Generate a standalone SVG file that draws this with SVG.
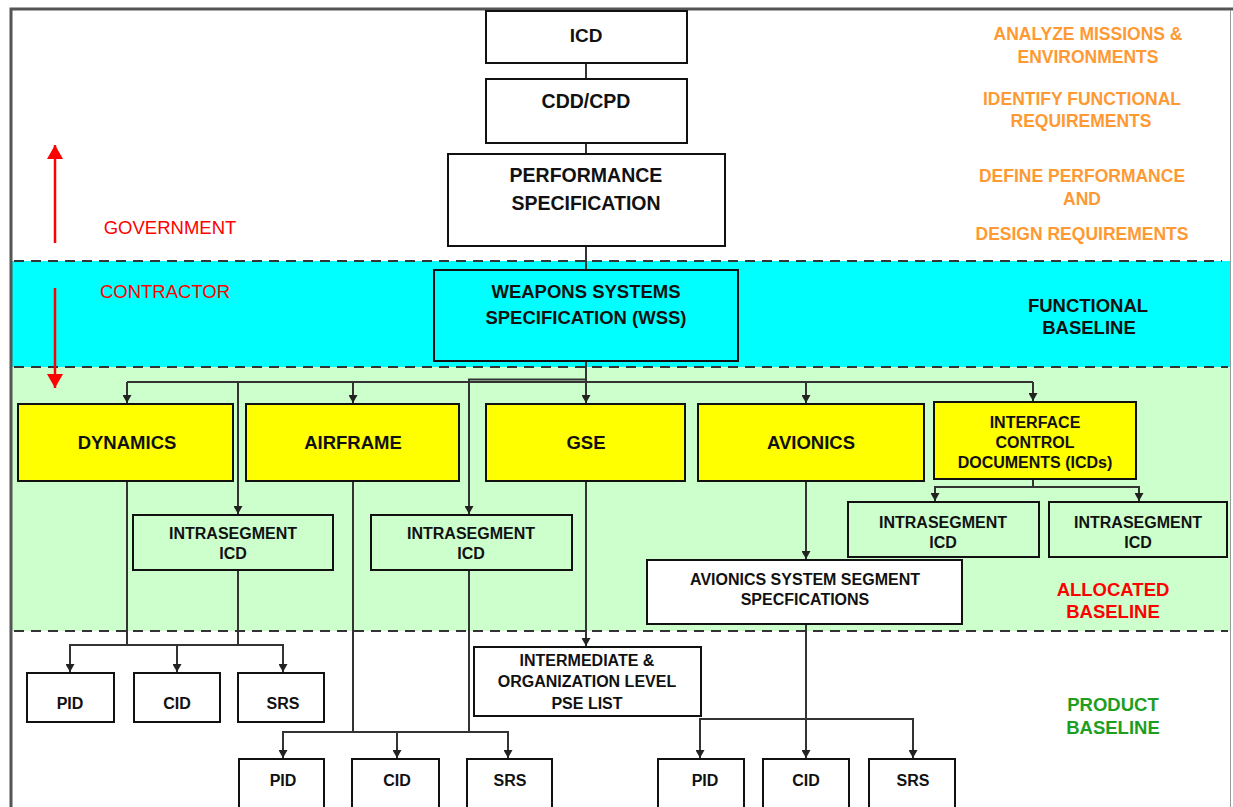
<svg xmlns="http://www.w3.org/2000/svg" width="1233" height="807" viewBox="0 0 1233 807">
<defs>
<style>
.t{font-family:"Liberation Sans",Arial,sans-serif;font-weight:bold;text-anchor:middle;fill:#111}
.b{stroke:#111;stroke-width:2}
.c{fill:none;stroke:#333;stroke-width:2}
.d{fill:none;stroke:#333;stroke-width:2;stroke-dasharray:10 7}
.o{font-family:"Liberation Sans",Arial,sans-serif;font-weight:bold;text-anchor:middle;fill:#FF9933;font-size:17.5px}
.r{font-family:"Liberation Sans",Arial,sans-serif;text-anchor:middle;fill:#FF0000;font-size:18.5px}
</style>
<marker id="ah" markerWidth="8" markerHeight="9" refX="8" refY="4.5" orient="auto-start-reverse" markerUnits="userSpaceOnUse" viewBox="0 0 8 9">
<path d="M0,0 L8,4.5 L0,9 Z" fill="#222"/>
</marker>
<marker id="ra" markerWidth="14" markerHeight="16" refX="14" refY="8" markerUnits="userSpaceOnUse" viewBox="0 0 14 16" orient="auto-start-reverse">
<path d="M0,0 L14,8 L0,16 Z" fill="#FF0000"/>
</marker>
</defs>
<rect width="1233" height="807" fill="#fff"/>
<g id="bands">
<rect x="12" y="261" width="1218" height="106" fill="#00FFFF"/>
<rect x="12" y="367" width="1218" height="264" fill="#CCFFCC"/>
<line class="d" x1="14" y1="261" x2="1222" y2="261"/>
<line class="d" x1="14" y1="367" x2="1228" y2="367"/>
<line class="d" x1="14" y1="631" x2="1228" y2="631"/>
<path d="M11,807 V9 H1233" fill="none" stroke="#555" stroke-width="3"/>
<line x1="1230.5" y1="10" x2="1230.5" y2="807" stroke="#999" stroke-width="1"/>
</g>
<g id="side-labels">
<text class="o" x="1088" y="40">ANALYZE MISSIONS &amp;</text>
<text class="o" x="1088" y="63">ENVIRONMENTS</text>
<text class="o" x="1082" y="105">IDENTIFY FUNCTIONAL</text>
<text class="o" x="1081" y="127">REQUIREMENTS</text>
<text class="o" x="1082" y="182">DEFINE PERFORMANCE</text>
<text class="o" x="1082" y="205">AND</text>
<text class="o" x="1082" y="240">DESIGN REQUIREMENTS</text>
<text class="t" x="1088" y="312" font-size="18.5">FUNCTIONAL</text>
<text class="t" x="1089" y="334" font-size="18.5">BASELINE</text>
<text class="t" x="1113" y="596" font-size="18.5" style="fill:#FF0000">ALLOCATED</text>
<text class="t" x="1113" y="618" font-size="18.5" style="fill:#FF0000">BASELINE</text>
<text class="t" x="1113" y="711" font-size="18.5" style="fill:#1E9E1E">PRODUCT</text>
<text class="t" x="1113" y="734" font-size="18.5" style="fill:#1E9E1E">BASELINE</text>
<text class="r" x="170" y="234">GOVERNMENT</text>
<text class="r" x="165" y="298">CONTRACTOR</text>
<line x1="55" y1="243" x2="55" y2="145" stroke="#FF0000" stroke-width="2.5" marker-end="url(#ra)"/>
<line x1="55" y1="288" x2="55" y2="388" stroke="#FF0000" stroke-width="2.5" marker-end="url(#ra)"/>
</g>
<g id="connectors">
<line class="c" x1="586" y1="63" x2="586" y2="79"/>
<line class="c" x1="586" y1="143" x2="586" y2="154"/>
<line class="c" x1="586" y1="246" x2="586" y2="270"/>
<line class="c" x1="586" y1="361" x2="586" y2="403" marker-end="url(#ah)"/>
<line class="c" x1="127" y1="382" x2="1033" y2="382"/>
<line class="c" x1="127" y1="382" x2="127" y2="403" marker-end="url(#ah)"/>
<line class="c" x1="353" y1="382" x2="353" y2="403" marker-end="url(#ah)"/>
<line class="c" x1="806" y1="382" x2="806" y2="403" marker-end="url(#ah)"/>
<line class="c" x1="1033" y1="382" x2="1033" y2="401" marker-end="url(#ah)"/>
<path class="c" d="M586,379.5 H469 V514" marker-end="url(#ah)"/>
<line class="c" x1="238" y1="382" x2="238" y2="514" marker-end="url(#ah)"/>
<line class="c" x1="127" y1="481" x2="127" y2="645"/>
<line class="c" x1="238" y1="570" x2="238" y2="645"/>
<path class="c" d="M70,672 V645 H283 V672" marker-start="url(#ah)" marker-end="url(#ah)"/>
<line class="c" x1="177" y1="645" x2="177" y2="672" marker-end="url(#ah)"/>
<line class="c" x1="353" y1="481" x2="353" y2="732"/>
<line class="c" x1="469" y1="570" x2="469" y2="732"/>
<path class="c" d="M283,758 V732 H508 V758" marker-start="url(#ah)" marker-end="url(#ah)"/>
<line class="c" x1="397" y1="732" x2="397" y2="758" marker-end="url(#ah)"/>
<line class="c" x1="586" y1="481" x2="586" y2="646" marker-end="url(#ah)"/>
<line class="c" x1="806" y1="481" x2="806" y2="559" marker-end="url(#ah)"/>
<line class="c" x1="806" y1="624" x2="806" y2="758" marker-end="url(#ah)"/>
<path class="c" d="M700,758 V719 H913 V758" marker-start="url(#ah)" marker-end="url(#ah)"/>
<line class="c" x1="1033" y1="479" x2="1033" y2="487"/>
<path class="c" d="M935,501 V487 H1139 V501" marker-start="url(#ah)" marker-end="url(#ah)"/>
</g>
<g id="n-icd"><rect class="b" x="486" y="11" width="201" height="52" fill="#fff"/><text class="t" x="586" y="42" font-size="19">ICD</text></g>
<g id="n-cdd"><rect class="b" x="486" y="79" width="201" height="64" fill="#fff"/><text class="t" x="586" y="108" font-size="19.5">CDD/CPD</text></g>
<g id="n-perf"><rect class="b" x="448" y="154" width="277" height="92" fill="#fff"/><text class="t" x="586" y="182" font-size="19.5">PERFORMANCE</text><text class="t" x="586" y="210" font-size="19.5">SPECIFICATION</text></g>
<g id="n-wss"><rect class="b" x="434" y="270" width="304" height="91" fill="#00FFFF"/><text class="t" x="586" y="298" font-size="18.5">WEAPONS SYSTEMS</text><text class="t" x="586" y="324" font-size="18.5">SPECIFICATION (WSS)</text></g>
<g id="n-dyn"><rect class="b" x="18" y="404" width="215" height="77" fill="#FFFF00"/><text class="t" x="127" y="449" font-size="18.5">DYNAMICS</text></g>
<g id="n-air"><rect class="b" x="246" y="404" width="213" height="77" fill="#FFFF00"/><text class="t" x="353" y="449" font-size="18.5">AIRFRAME</text></g>
<g id="n-gse"><rect class="b" x="486" y="404" width="199" height="77" fill="#FFFF00"/><text class="t" x="586" y="449" font-size="18.5">GSE</text></g>
<g id="n-avi"><rect class="b" x="698" y="404" width="226" height="77" fill="#FFFF00"/><text class="t" x="811" y="449" font-size="18.5">AVIONICS</text></g>
<g id="n-icds"><rect class="b" x="934" y="402" width="202" height="77" fill="#FFFF00"/><text class="t" x="1035" y="428" font-size="16">INTERFACE</text><text class="t" x="1035" y="448" font-size="16">CONTROL</text><text class="t" x="1035" y="468" font-size="16">DOCUMENTS (ICDs)</text></g>
<g id="n-is1"><rect class="b" x="133" y="515" width="200" height="55" fill="#CCFFCC"/><text class="t" x="233" y="539" font-size="16">INTRASEGMENT</text><text class="t" x="233" y="559" font-size="16">ICD</text></g>
<g id="n-is2"><rect class="b" x="371" y="515" width="201" height="55" fill="#CCFFCC"/><text class="t" x="471" y="539" font-size="16">INTRASEGMENT</text><text class="t" x="471" y="559" font-size="16">ICD</text></g>
<g id="n-is3"><rect class="b" x="848" y="502" width="191" height="55" fill="#CCFFCC"/><text class="t" x="943" y="528" font-size="16">INTRASEGMENT</text><text class="t" x="943" y="548" font-size="16">ICD</text></g>
<g id="n-is4"><rect class="b" x="1049" y="502" width="178" height="55" fill="#CCFFCC"/><text class="t" x="1138" y="528" font-size="16">INTRASEGMENT</text><text class="t" x="1138" y="548" font-size="16">ICD</text></g>
<g id="n-avss"><rect class="b" x="647" y="560" width="315" height="64" fill="#fff"/><text class="t" x="805" y="585" font-size="16">AVIONICS SYSTEM SEGMENT</text><text class="t" x="805" y="605" font-size="16">SPECFICATIONS</text></g>
<g id="n-pse"><rect class="b" x="474" y="647" width="227" height="69" fill="#fff"/><text class="t" x="587" y="666" font-size="16">INTERMEDIATE &amp;</text><text class="t" x="587" y="687" font-size="16">ORGANIZATION LEVEL</text><text class="t" x="587" y="709" font-size="16">PSE LIST</text></g>
<g id="n-pid1"><rect class="b" x="27" y="673" width="87" height="49" fill="#fff"/><text class="t" x="70" y="709" font-size="16">PID</text></g>
<g id="n-cid1"><rect class="b" x="134" y="673" width="86" height="49" fill="#fff"/><text class="t" x="177" y="709" font-size="16">CID</text></g>
<g id="n-srs1"><rect class="b" x="238" y="673" width="86" height="49" fill="#fff"/><text class="t" x="283" y="709" font-size="16">SRS</text></g>
<g id="n-pid2"><rect class="b" x="239" y="759" width="85" height="60" fill="#fff"/><text class="t" x="283" y="786" font-size="16">PID</text></g>
<g id="n-cid2"><rect class="b" x="352" y="759" width="87" height="60" fill="#fff"/><text class="t" x="397" y="786" font-size="16">CID</text></g>
<g id="n-srs2"><rect class="b" x="467" y="759" width="85" height="60" fill="#fff"/><text class="t" x="510" y="786" font-size="16">SRS</text></g>
<g id="n-pid3"><rect class="b" x="658" y="759" width="86" height="60" fill="#fff"/><text class="t" x="705" y="786" font-size="16">PID</text></g>
<g id="n-cid3"><rect class="b" x="763" y="759" width="86" height="60" fill="#fff"/><text class="t" x="806" y="786" font-size="16">CID</text></g>
<g id="n-srs3"><rect class="b" x="869" y="759" width="86" height="60" fill="#fff"/><text class="t" x="913" y="786" font-size="16">SRS</text></g>
</svg>
